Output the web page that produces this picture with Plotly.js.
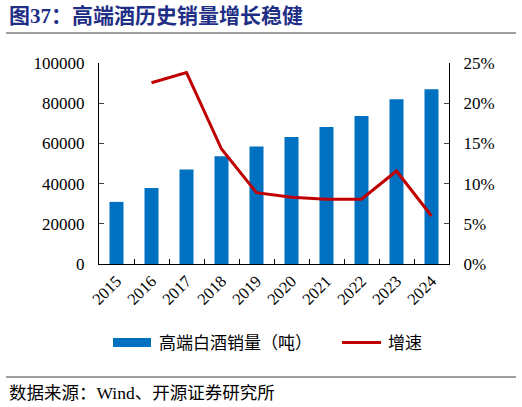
<!DOCTYPE html>
<html><head><meta charset="utf-8">
<script src="https://cdn.plot.ly/plotly-3.0.1.min.js"></script>
<style>html,body{margin:0;padding:0;background:#fff;}#chart{width:522px;height:407px;}</style>
</head><body><div id="chart"></div>
<script>
const years = ['2015','2016','2017','2018','2019','2020','2021','2022','2023','2024'];
const volume = [30900, 37800, 47000, 53600, 58400, 63200, 68200, 73600, 82000, 86900];
const growthYears = ['2016','2017','2018','2019','2020','2021','2022','2023','2024'];
const growth = [0.2255, 0.238, 0.143, 0.0887, 0.083, 0.0805, 0.0805, 0.1157, 0.0597];
const volTicks = [0, 20000, 40000, 60000, 80000, 100000];
const pctTicks = [0, 0.05, 0.10, 0.15, 0.20, 0.25];

const serif = '"Liberation Serif", "Times New Roman", serif';
const cjk = '"Liberation Serif", "Noto Sans CJK SC", serif';

// plot area in px: x 99..449, y 63..264
const L = 99, R = 449, T = 63, B = 264;
const px = x => (x - L) / (R - L);
const py = y => (B - y) / (B - T);

const traces = [
  {type:'bar', x: years, y: volume, name:'高端白酒销量（吨）', marker:{color:'#0070c0'}, width:0.4, yaxis:'y', showlegend:false},
  {type:'scatter', mode:'lines', x: growthYears, y: growth, name:'增速', line:{color:'#c00000', width:3}, yaxis:'y2', showlegend:false}
];

const layout = {
  width:522, height:407,
  margin:{l:L, r:522-R, t:T, b:407-B},
  paper_bgcolor:'#fff', plot_bgcolor:'#fff',
  font:{family:serif, size:16, color:'#000'},
  showlegend:false,
  xaxis:{type:'category', showline:true, linecolor:'#000', linewidth:1, ticks:'inside', tickson:'boundaries', ticklen:5, tickcolor:'#000',
         tickangle:-45, tickfont:{family:serif, size:16.5}, showgrid:false, zeroline:false, fixedrange:true},
  yaxis:{range:[0,100000], tickvals:volTicks, ticktext:volTicks.map(String), showline:true, linecolor:'#000', ticks:'inside', ticklen:5,
         showgrid:false, zeroline:false, tickfont:{family:serif, size:17}, ticklabelstandoff:10},
  yaxis2:{range:[0,0.25], overlaying:'y', side:'right', tickvals:pctTicks, ticktext:pctTicks.map(v=>Math.round(v*100)+'%'),
          showline:true, linecolor:'#000', ticks:'inside', ticklen:5, showgrid:false, zeroline:false, tickfont:{family:serif, size:17}, ticklabelstandoff:10},
  shapes:[
    {type:'line', xref:'paper', yref:'paper', x0:px(6), x1:px(516), y0:py(33), y1:py(33), line:{color:'#7f7f7f', width:1.5}},
    {type:'line', xref:'paper', yref:'paper', x0:px(6), x1:px(516), y0:py(377), y1:py(377), line:{color:'#7f7f7f', width:1.5}},
    {type:'rect', xref:'paper', yref:'paper', x0:px(113), x1:px(151), y0:py(347), y1:py(338), fillcolor:'#0070c0', line:{width:0}},
    {type:'line', xref:'paper', yref:'paper', x0:px(342), x1:px(381), y0:py(342.5), y1:py(342.5), line:{color:'#c00000', width:3}}
  ],
  annotations:[
    {xref:'paper', yref:'paper', x:px(7), y:py(16), xanchor:'left', yanchor:'middle', showarrow:false,
     text:'<b>图37：高端酒历史销量增长稳健</b>', font:{family:cjk, size:21, color:'#1f2f86'}},
    {xref:'paper', yref:'paper', x:px(157), y:py(343), xanchor:'left', yanchor:'middle', showarrow:false,
     text:'高端白酒销量（吨）', font:{family:cjk, size:17, color:'#000'}},
    {xref:'paper', yref:'paper', x:px(386), y:py(343), xanchor:'left', yanchor:'middle', showarrow:false,
     text:'增速', font:{family:cjk, size:17, color:'#000'}},
    {xref:'paper', yref:'paper', x:px(7), y:py(393), xanchor:'left', yanchor:'middle', showarrow:false,
     text:'数据来源：Wind、开源证券研究所', font:{family:cjk, size:17.5, color:'#000'}}
  ]
};

Plotly.newPlot('chart', traces, layout, {displayModeBar:false, staticPlot:true});
</script></body></html>
